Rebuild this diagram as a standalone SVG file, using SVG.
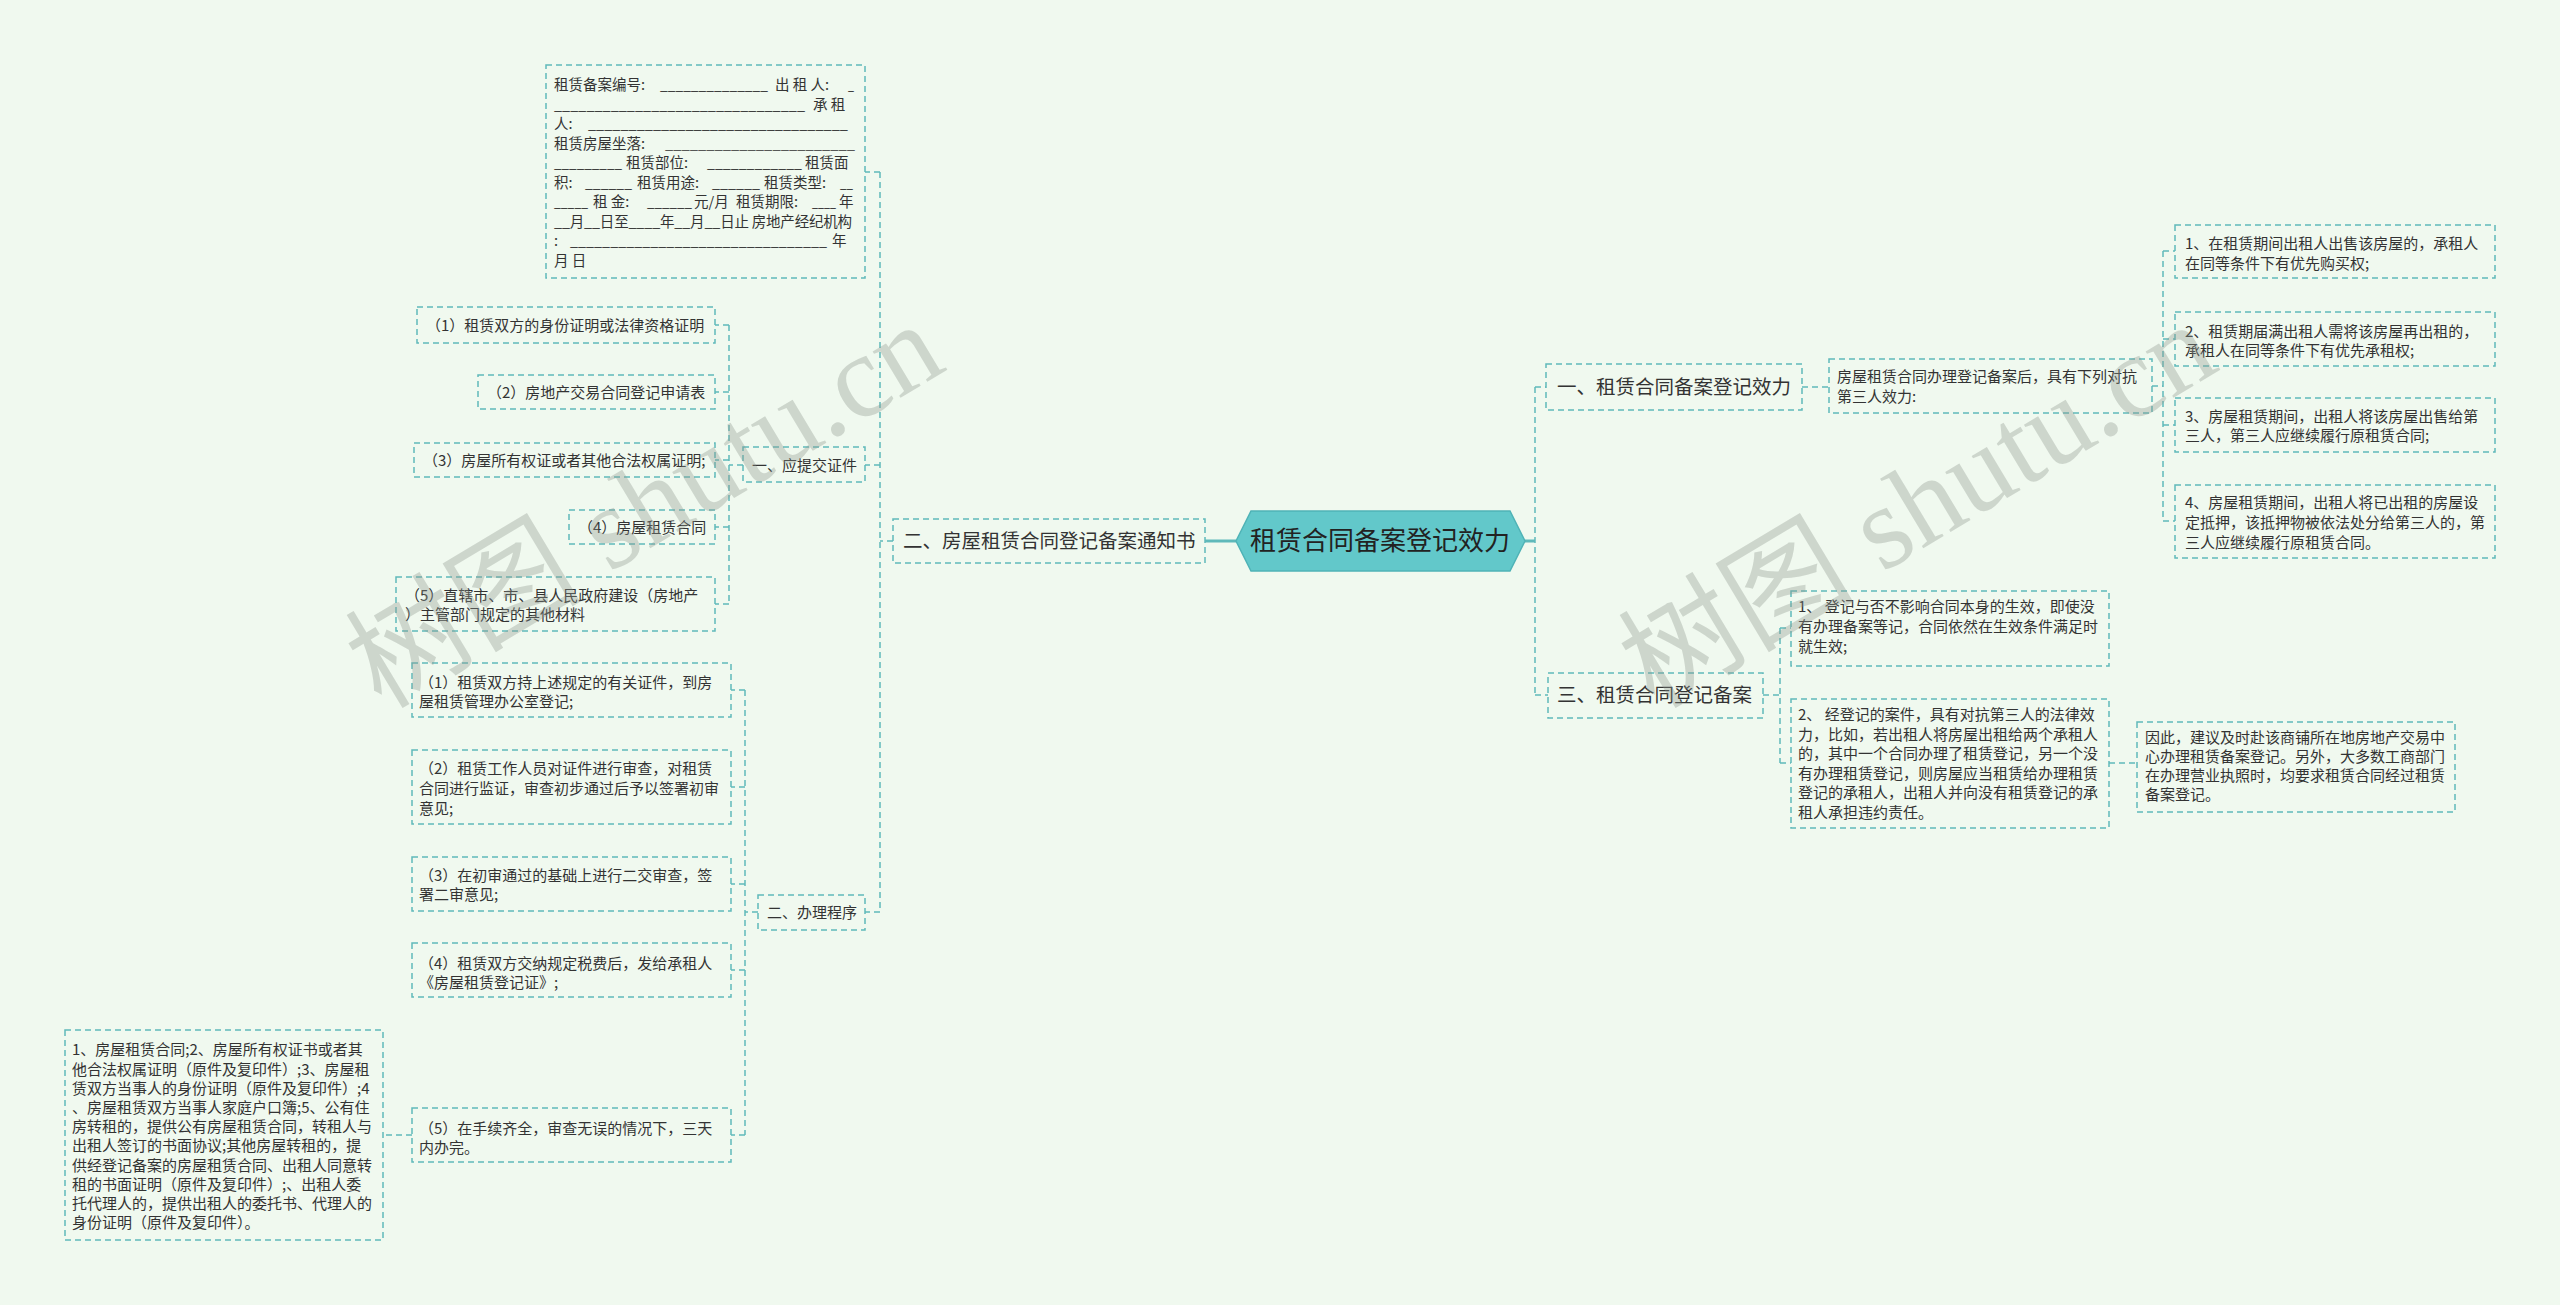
<svg xmlns="http://www.w3.org/2000/svg" width="2560" height="1305" viewBox="0 0 2560 1305">
<style>
.box{fill:none;stroke:#5fb9ba;stroke-width:1.5;stroke-dasharray:6 4}
.conn{fill:none;stroke:#5fb9ba;stroke-width:1.5;stroke-dasharray:6 4}
.solid{fill:none;stroke:#5fb9ba;stroke-width:3}
.t{font-family:"Noto Sans CJK SC","Liberation Sans",sans-serif;fill:#333;font-size:15px}
.t20{font-family:"Noto Sans CJK SC","Liberation Sans",sans-serif;fill:#333;font-size:19.5px}
.rec{font-family:"Noto Sans CJK SC","Liberation Sans",sans-serif;fill:#333;font-size:14.5px}
.wm{font-family:"Liberation Serif","Noto Sans CJK SC",serif;fill:#8c948c;fill-opacity:0.35;font-size:118px}
</style>
<rect width="2560" height="1305" fill="#f0f9ef"/>

<g id="connectors">
<path class="solid" d="M1236,541 H1205"/>
<path class="solid" d="M1525,541 H1535"/>
<path class="conn" d="M893,541 H880 M880,172 V912 M880,172 H865 M880,465 H865 M880,912 H865"/>
<path class="conn" d="M743,465 H729 M729,325 V604 M729,325 H715 M729,392 H715 M729,460 H715 M729,527 H715 M729,604 H715"/>
<path class="conn" d="M758,912 H745 M745,690 V1135 M745,690 H731 M745,787 H731 M745,884 H731 M745,970 H731 M745,1135 H731"/>
<path class="conn" d="M412,1135 H383"/>
<path class="conn" d="M1535,387 V695 M1535,387 H1546 M1535,695 H1548"/>
<path class="conn" d="M1802,387 H1829"/>
<path class="conn" d="M2152,386 H2163 M2163,251 V521 M2163,251 H2175 M2163,339 H2175 M2163,425 H2175 M2163,521 H2175"/>
<path class="conn" d="M1763,695 H1780 M1780,628 V763 M1780,628 H1791 M1780,763 H1791"/>
<path class="conn" d="M2109,763 H2137"/>
</g>

<g id="center">
<polygon points="1236,541 1251,511 1510,511 1525,541 1510,571 1251,571" fill="#62c8ca" stroke="#4fb3b6" stroke-width="1.5"/>
<text x="1380" y="550" text-anchor="middle" font-family="Noto Sans CJK SC, sans-serif" font-size="26" fill="#222">租赁合同备案登记效力</text>
</g>

<g id="n-notice">
<rect class="box" x="893" y="519" width="312" height="44"/>
<text class="t20" x="903" y="548">二、房屋租赁合同登记备案通知书</text>
</g>

<g id="n-record">
<rect class="box" x="546" y="65" width="319" height="213"/>
<text class="rec" x="554" y="90">租赁备案编号:</text>
<text class="rec" x="660" y="90" textLength="108" lengthAdjust="spacingAndGlyphs">______________</text>
<text class="rec" x="775" y="90">出 租 人:</text>
<text class="rec" x="848" y="90" textLength="6" lengthAdjust="spacingAndGlyphs">_</text>
<text class="rec" x="554" y="110" textLength="251" lengthAdjust="spacingAndGlyphs">_______________________________</text>
<text class="rec" x="813" y="110">承 租</text>
<text class="rec" x="554" y="129">人:</text>
<text class="rec" x="588" y="129" textLength="260" lengthAdjust="spacingAndGlyphs">________________________________</text>
<text class="rec" x="554" y="148.5">租赁房屋坐落:</text>
<text class="rec" x="665" y="148.5" textLength="190" lengthAdjust="spacingAndGlyphs">_______________________</text>
<text class="rec" x="554" y="168" textLength="68" lengthAdjust="spacingAndGlyphs">_________</text>
<text class="rec" x="626" y="168">租赁部位:</text>
<text class="rec" x="707" y="168" textLength="95" lengthAdjust="spacingAndGlyphs">____________</text>
<text class="rec" x="805" y="168">租赁面</text>
<text class="rec" x="554" y="187.5">积:</text>
<text class="rec" x="585" y="187.5" textLength="47" lengthAdjust="spacingAndGlyphs">______</text>
<text class="rec" x="637" y="187.5">租赁用途:</text>
<text class="rec" x="712" y="187.5" textLength="48" lengthAdjust="spacingAndGlyphs">______</text>
<text class="rec" x="764" y="187.5">租赁类型:</text>
<text class="rec" x="840" y="187.5" textLength="13" lengthAdjust="spacingAndGlyphs">__</text>
<text class="rec" x="554" y="207" textLength="34" lengthAdjust="spacingAndGlyphs">_____</text>
<text class="rec" x="593" y="207">租 金:</text>
<text class="rec" x="647" y="207" textLength="45" lengthAdjust="spacingAndGlyphs">______</text>
<text class="rec" x="694" y="207">元/月</text>
<text class="rec" x="736" y="207">租赁期限:</text>
<text class="rec" x="812" y="207" textLength="24" lengthAdjust="spacingAndGlyphs">____</text>
<text class="rec" x="839" y="207">年</text>
<text class="rec" x="554" y="226.5" textLength="298" lengthAdjust="spacing">__月__日至____年__月__日止 房地产经纪机构</text>
<text class="rec" x="554" y="246">:</text>
<text class="rec" x="570" y="246" textLength="257" lengthAdjust="spacingAndGlyphs">________________________________</text>
<text class="rec" x="832" y="246">年</text>
<text class="rec" x="554" y="265.5">月 日</text>
</g>

<g id="n-docs">
<rect class="box" x="743" y="447" width="122" height="35"/>
<text class="t" x="752" y="470.5">一、应提交证件</text>
</g>
<g id="n-doc1">
<rect class="box" x="417" y="307" width="298" height="36"/>
<text class="t" x="426" y="330.5">（1）租赁双方的身份证明或法律资格证明</text>
</g>
<g id="n-doc2">
<rect class="box" x="478" y="375" width="237" height="34"/>
<text class="t" x="487" y="397.5">（2）房地产交易合同登记申请表</text>
</g>
<g id="n-doc3">
<rect class="box" x="414" y="443" width="301" height="34"/>
<text class="t" x="423" y="465.5">（3）房屋所有权证或者其他合法权属证明;</text>
</g>
<g id="n-doc4">
<rect class="box" x="569" y="510" width="146" height="34"/>
<text class="t" x="578" y="532.5">（4）房屋租赁合同</text>
</g>
<g id="n-doc5">
<rect class="box" x="396" y="577" width="319" height="54"/>
<text class="t" x="405" y="600.5">（5）直辖市、市、县人民政府建设（房地产</text>
<text class="t" x="405" y="619.5">）主管部门规定的其他材料</text>
</g>

<g id="n-proc">
<rect class="box" x="758" y="895" width="107" height="35"/>
<text class="t" x="767" y="917.5">二、办理程序</text>
</g>
<g id="n-proc1">
<rect class="box" x="412" y="663" width="319" height="54"/>
<text class="t" x="419" y="687.5">（1）租赁双方持上述规定的有关证件，到房</text>
<text class="t" x="419" y="706.5">屋租赁管理办公室登记;</text>
</g>
<g id="n-proc2">
<rect class="box" x="412" y="750" width="319" height="74"/>
<text class="t" x="419" y="773.5">（2）租赁工作人员对证件进行审查，对租赁</text>
<text class="t" x="419" y="793.5">合同进行监证，审查初步通过后予以签署初审</text>
<text class="t" x="419" y="813.5">意见;</text>
</g>
<g id="n-proc3">
<rect class="box" x="412" y="857" width="319" height="54"/>
<text class="t" x="419" y="880.5">（3）在初审通过的基础上进行二交审查，签</text>
<text class="t" x="419" y="899.5">署二审意见;</text>
</g>
<g id="n-proc4">
<rect class="box" x="412" y="943" width="319" height="54"/>
<text class="t" x="419" y="968.5">（4）租赁双方交纳规定税费后，发给承租人</text>
<text class="t" x="419" y="987.5">《房屋租赁登记证》;</text>
</g>
<g id="n-proc5">
<rect class="box" x="412" y="1108" width="319" height="54"/>
<text class="t" x="419" y="1133.5">（5）在手续齐全，审查无误的情况下，三天</text>
<text class="t" x="419" y="1152.5">内办完。</text>
</g>
<g id="n-materials">
<rect class="box" x="65" y="1030" width="318" height="210"/>
<text class="t" x="72" y="1055.3">1、房屋租赁合同;2、房屋所有权证书或者其</text>
<text class="t" x="72" y="1074.5">他合法权属证明（原件及复印件）;3、房屋租</text>
<text class="t" x="72" y="1093.7">赁双方当事人的身份证明（原件及复印件）;4</text>
<text class="t" x="72" y="1112.9">、房屋租赁双方当事人家庭户口簿;5、公有住</text>
<text class="t" x="72" y="1132.1">房转租的，提供公有房屋租赁合同，转租人与</text>
<text class="t" x="72" y="1151.3">出租人签订的书面协议;其他房屋转租的，提</text>
<text class="t" x="72" y="1170.5">供经登记备案的房屋租赁合同、出租人同意转</text>
<text class="t" x="72" y="1189.7">租的书面证明（原件及复印件）;、出租人委</text>
<text class="t" x="72" y="1208.9">托代理人的，提供出租人的委托书、代理人的</text>
<text class="t" x="72" y="1228.1">身份证明（原件及复印件）。</text>
</g>

<g id="n-effect">
<rect class="box" x="1546" y="364" width="256" height="46"/>
<text class="t20" x="1557" y="394">一、租赁合同备案登记效力</text>
</g>
<g id="n-intro">
<rect class="box" x="1829" y="359" width="323" height="54"/>
<text class="t" x="1837" y="382.3">房屋租赁合同办理登记备案后，具有下列对抗</text>
<text class="t" x="1837" y="402.3">第三人效力:</text>
</g>
<g id="n-eff1">
<rect class="box" x="2175" y="225" width="320" height="53"/>
<text class="t" x="2185" y="249.3">1、在租赁期间出租人出售该房屋的，承租人</text>
<text class="t" x="2185" y="269.3">在同等条件下有优先购买权;</text>
</g>
<g id="n-eff2">
<rect class="box" x="2175" y="312" width="320" height="54"/>
<text class="t" x="2185" y="337.3">2、租赁期届满出租人需将该房屋再出租的，</text>
<text class="t" x="2185" y="356.3">承租人在同等条件下有优先承租权;</text>
</g>
<g id="n-eff3">
<rect class="box" x="2175" y="398" width="320" height="54"/>
<text class="t" x="2185" y="422.3">3、房屋租赁期间，出租人将该房屋出售给第</text>
<text class="t" x="2185" y="441.3">三人，第三人应继续履行原租赁合同;</text>
</g>
<g id="n-eff4">
<rect class="box" x="2175" y="485" width="320" height="73"/>
<text class="t" x="2185" y="508.3">4、房屋租赁期间，出租人将已出租的房屋设</text>
<text class="t" x="2185" y="528.3">定抵押，该抵押物被依法处分给第三人的，第</text>
<text class="t" x="2185" y="548.3">三人应继续履行原租赁合同。</text>
</g>

<g id="n-filing">
<rect class="box" x="1548" y="673" width="215" height="45"/>
<text class="t20" x="1557" y="702">三、租赁合同登记备案</text>
</g>
<g id="n-fil1">
<rect class="box" x="1791" y="591" width="318" height="75"/>
<text class="t" x="1798" y="612.3">1、 登记与否不影响合同本身的生效，即使没</text>
<text class="t" x="1798" y="632.3">有办理备案等记，合同依然在生效条件满足时</text>
<text class="t" x="1798" y="652.3">就生效;</text>
</g>
<g id="n-fil2">
<rect class="box" x="1791" y="699" width="318" height="129"/>
<text class="t" x="1798" y="720.3">2、 经登记的案件，具有对抗第三人的法律效</text>
<text class="t" x="1798" y="740.3">力，比如，若出租人将房屋出租给两个承租人</text>
<text class="t" x="1798" y="759.3">的，其中一个合同办理了租赁登记，另一个没</text>
<text class="t" x="1798" y="779.3">有办理租赁登记，则房屋应当租赁给办理租赁</text>
<text class="t" x="1798" y="798.3">登记的承租人，出租人并向没有租赁登记的承</text>
<text class="t" x="1798" y="818.3">租人承担违约责任。</text>
</g>
<g id="n-advice">
<rect class="box" x="2137" y="722" width="318" height="90"/>
<text class="t" x="2145" y="743.3">因此，建议及时赴该商铺所在地房地产交易中</text>
<text class="t" x="2145" y="762.3">心办理租赁备案登记。另外，大多数工商部门</text>
<text class="t" x="2145" y="781.3">在办理营业执照时，均要求租赁合同经过租赁</text>
<text class="t" x="2145" y="800.3">备案登记。</text>
</g>

<g id="watermarks">
<text class="wm" x="645" y="545" text-anchor="middle" transform="rotate(-31 645 506)">树图 shutu.cn</text>
<text class="wm" x="1918" y="545" text-anchor="middle" transform="rotate(-31 1918 506)">树图 shutu.cn</text>
</g>
</svg>
